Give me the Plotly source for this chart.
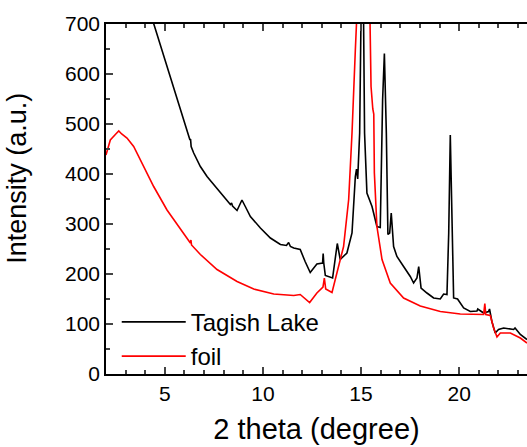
import plotly.graph_objects as go

# Tagish Lake (black)
tl_x = [2.0, 2.5, 3.0, 3.5, 4.0, 4.43, 4.8, 5.11, 5.45, 5.79, 6.1, 6.28, 6.31, 6.34, 6.47,
        6.81, 7.15, 7.49, 7.9, 8.34, 8.4, 8.45, 8.68, 8.93, 9.1, 9.36, 9.87, 10.38, 10.89,
        11.2, 11.31, 11.4, 11.57, 11.9, 12.15, 12.41, 12.75, 13.04, 13.07, 13.1, 13.18,
        13.55, 13.79, 13.94, 14.28, 14.54, 14.71, 14.77, 14.83, 14.93, 15.01, 15.06, 15.12,
        15.18, 15.3, 15.56, 15.81, 15.98, 16.1, 16.19, 16.29, 16.37, 16.46, 16.54, 16.66,
        16.83, 17.17, 17.51, 17.68, 17.85, 17.94, 18.06, 18.36, 18.7, 19.04, 19.21, 19.38,
        19.47, 19.55, 19.64, 19.72, 19.92, 20.23, 20.57, 20.91, 20.95, 21.25, 21.5, 21.55,
        21.67, 21.84, 22.01, 22.27, 22.78, 22.85, 23.12, 23.46]
tl_y = [1150, 1000, 900, 820, 755, 700, 655, 615, 570, 528, 490, 468, 470, 455, 442,
        415, 395, 379, 358, 339, 342, 336, 327, 348, 335, 315, 292, 272, 259,
        257, 263, 255, 252, 249, 225, 203, 220, 222, 241, 222, 197,
        192, 261, 229, 242, 282, 395, 410, 390, 482, 750, 1100, 750,
        482, 362, 335, 295, 293, 548, 641, 482, 279, 282, 322, 255,
        235, 215, 195, 182, 192, 215, 172, 162, 152, 150, 160, 159,
        282, 478, 282, 152, 150, 132, 125, 126, 130, 122, 125, 130,
        105, 82, 89, 92, 89, 92, 79, 69]

# foil (red)
foil_x = [2.0, 2.22, 2.5, 2.65, 2.8, 3.07, 3.41, 3.92, 4.43, 5.11, 5.79, 6.3, 6.33, 6.36,
          6.81, 7.66, 8.68, 9.53, 10.55, 11.57, 11.9, 12.38, 12.75, 13.06, 13.13, 13.2,
          13.52, 13.77, 14.11, 14.37, 14.54, 14.71, 14.79, 15.1, 15.47, 15.51, 15.6, 15.65,
          15.68, 15.81, 16.07, 16.49, 17.17, 18.02, 19.04, 20.06, 21.25, 21.31, 21.36,
          21.59, 21.76, 21.93, 22.1, 22.61, 23.12, 23.46]
foil_y = [438, 468, 480, 486, 480, 472, 455, 415, 375, 328, 289, 262, 268, 258,
          239, 209, 185, 170, 160, 157, 159, 143, 162, 174, 192, 170,
          163, 202, 255, 349, 482, 648, 720, 1600, 720, 575, 530, 520,
          402, 295, 229, 182, 152, 136, 125, 120, 119, 141, 119,
          117, 92, 74, 82, 82, 72, 62]

x_ticks = [5, 10, 15, 20]
y_ticks = [0, 100, 200, 300, 400, 500, 600, 700]

FONT = "Liberation Sans, Arial, sans-serif"

fig = go.Figure()
fig.add_trace(go.Scatter(x=tl_x, y=tl_y, mode="lines", name="Tagish Lake",
                         line=dict(color="#000000", width=1.6)))
fig.add_trace(go.Scatter(x=foil_x, y=foil_y, mode="lines", name="foil",
                         line=dict(color="#ff0000", width=1.6)))

fig.add_annotation(text="Intensity (a.u.)", textangle=-90, showarrow=False,
                   xref="paper", yref="paper", x=-0.212, y=0.56,
                   xanchor="center", yanchor="middle",
                   font=dict(size=27, family=FONT, color="black"))

fig.update_layout(
    width=527, height=447,
    margin=dict(l=106, r=0, t=24, b=72.5),
    paper_bgcolor="white", plot_bgcolor="white",
    font=dict(family=FONT, color="black", size=21),
    showlegend=True,
    legend=dict(x=0.0255, y=0.212, xanchor="left", yanchor="top",
                bgcolor="rgba(0,0,0,0)", font=dict(size=24, family=FONT),
                itemwidth=64, tracegroupgap=0),
    xaxis=dict(range=[2, 23.46], tickvals=x_ticks, ticks="inside", ticklen=7, tickwidth=1.5,
               showline=True, linecolor="black", linewidth=1.5, mirror="ticks",
               showgrid=False, zeroline=False,
               minor=dict(dtick=1, ticks="inside", ticklen=4, tickwidth=1.5, showgrid=False),
               title=dict(text="2 theta (degree)", font=dict(size=29), standoff=15),
               tickfont=dict(size=21)),
    yaxis=dict(range=[0, 700], tickvals=y_ticks, ticks="inside", ticklen=7, tickwidth=1.5,
               showline=True, linecolor="black", linewidth=1.5, mirror=False,
               showgrid=False, zeroline=False,
               minor=dict(dtick=50, ticks="inside", ticklen=4, tickwidth=1.5, showgrid=False),
               tickfont=dict(size=21)),
)

fig.write_html("out.html", config={"displayModeBar": False},
               post_script="document.body.style.margin='0px';document.body.style.overflow='hidden';")
